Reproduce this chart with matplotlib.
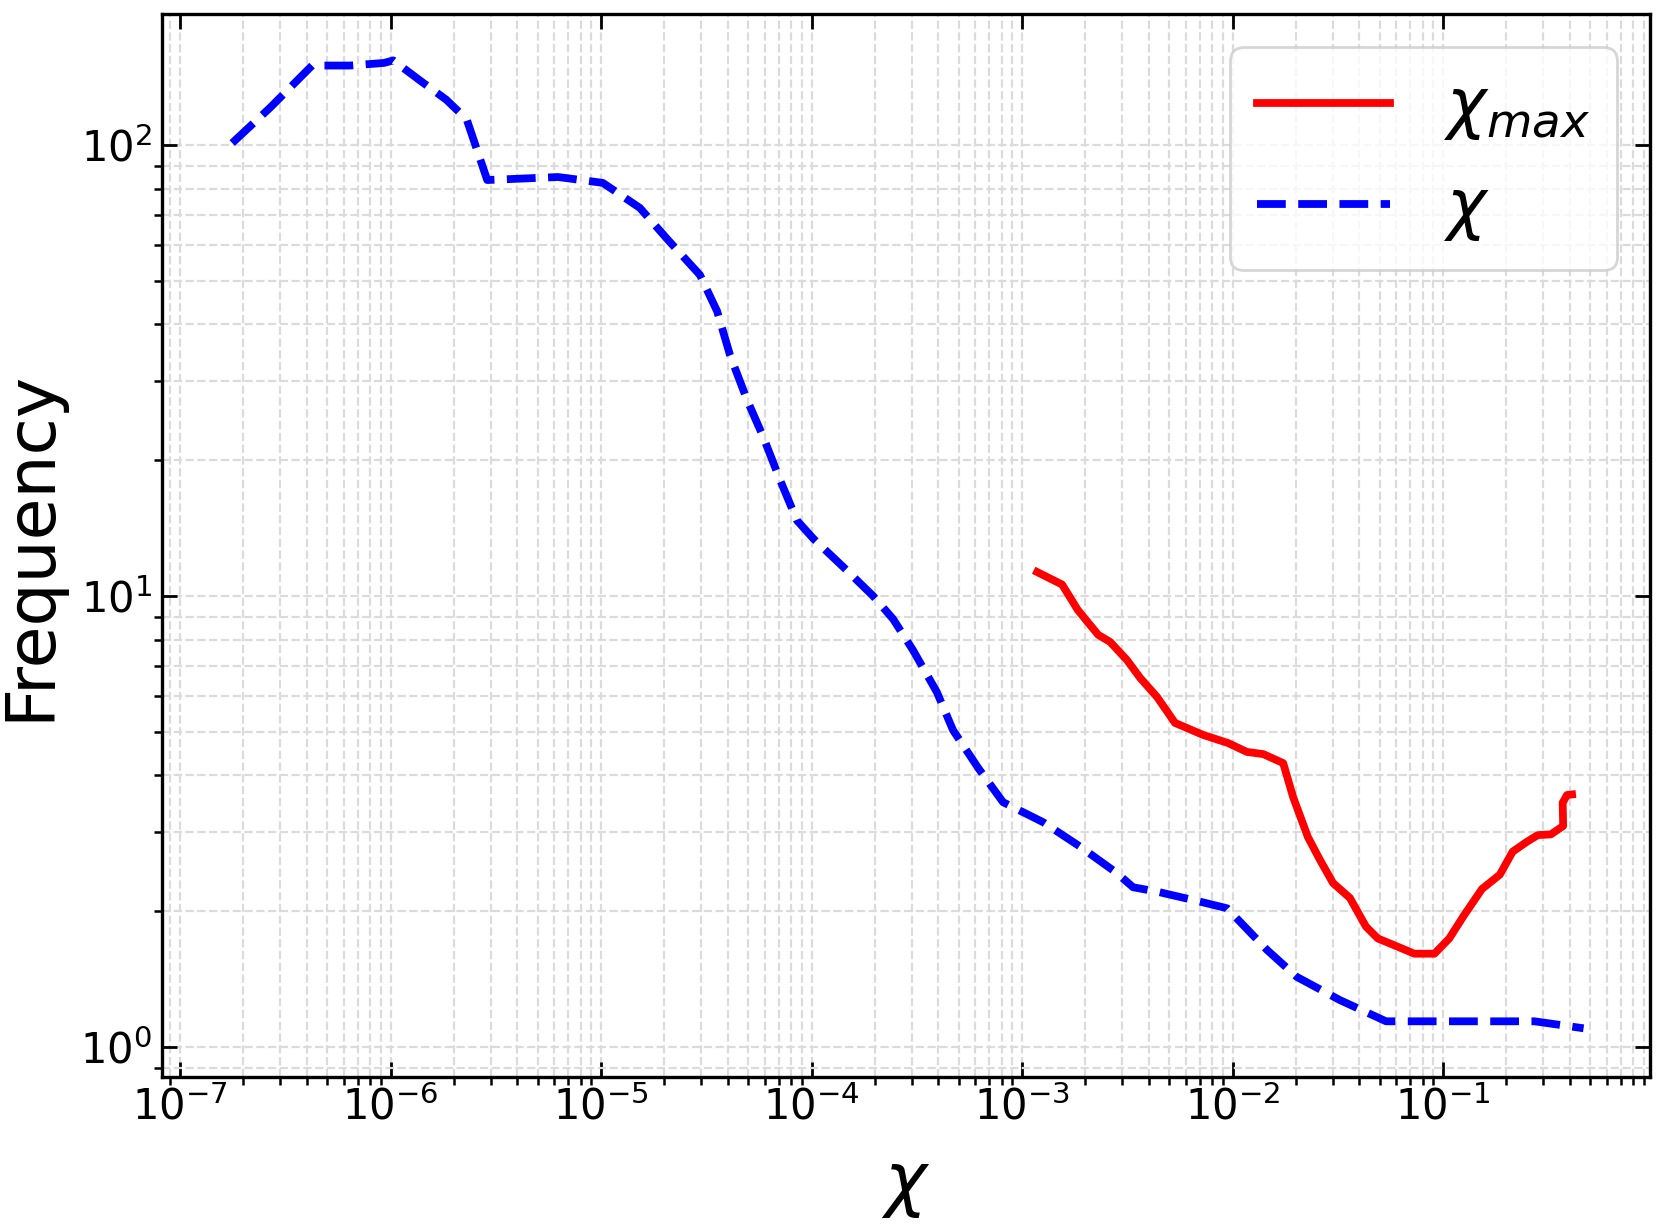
import matplotlib
matplotlib.use("Agg")
import matplotlib.pyplot as plt

# chi distribution (dashed blue)
chi_x = [1.77e-7, 2.68e-7, 4.24e-7, 6.42e-7, 9.31e-7, 1.03e-6, 1.38e-6, 1.84e-6,
         2.30e-6, 2.88e-6, 6.25e-6, 1.02e-5, 1.53e-5, 2.06e-5, 2.95e-5, 3.56e-5,
         4.10e-5, 4.94e-5, 5.88e-5, 7.08e-5, 8.53e-5, 1.02e-4, 1.47e-4, 1.96e-4,
         2.44e-4, 3.03e-4, 3.94e-4, 4.70e-4, 6.18e-4, 8.12e-4, 1.26e-3, 1.89e-3,
         2.82e-3, 3.37e-3, 4.38e-3, 7.01e-3, 9.42e-3, 1.46e-2, 2.02e-2, 3.24e-2,
         5.36e-2, 0.272, 0.465]
chi_y = [101, 121, 150, 150, 152, 154, 139, 126,
         114, 83.6, 84.9, 82.4, 72.5, 61.9, 51.5, 42.8,
         34.2, 27.2, 22.6, 18.1, 14.7, 13.4, 11.4, 10.0,
         8.89, 7.59, 6.12, 5.04, 4.16, 3.49, 3.15, 2.78,
         2.43, 2.26, 2.21, 2.10, 2.03, 1.64, 1.43, 1.27,
         1.14, 1.14, 1.10]

# chi_max distribution (solid red)
chimax_x = [1.18e-3, 1.55e-3, 1.84e-3, 2.30e-3, 2.62e-3, 3.15e-3, 3.64e-3, 4.38e-3,
            5.33e-3, 7.24e-3, 9.52e-3, 1.17e-2, 1.40e-2, 1.74e-2, 1.94e-2, 2.28e-2,
            2.60e-2, 3.00e-2, 3.61e-2, 4.30e-2, 4.90e-2, 5.70e-2, 7.30e-2, 9.10e-2,
            0.107, 0.125, 0.153, 0.186, 0.214, 0.250, 0.282, 0.325,
            0.372, 0.370, 0.388, 0.410]
chimax_y = [11.3, 10.6, 9.31, 8.20, 7.91, 7.21, 6.58, 5.97,
            5.23, 4.92, 4.72, 4.51, 4.46, 4.26, 3.58, 2.92,
            2.60, 2.31, 2.14, 1.85, 1.74, 1.69, 1.61, 1.61,
            1.74, 1.95, 2.24, 2.41, 2.71, 2.85, 2.95, 2.96,
            3.09, 3.48, 3.62, 3.63]

fig = plt.figure(figsize=(8.315, 6.12), dpi=200)
ax = fig.add_axes([0.0974, 0.1205, 0.8948, 0.8681])

ax.plot(chimax_x, chimax_y, color='red', lw=2.8, label=r'$\chi_{max}$', zorder=3)
ax.plot(chi_x, chi_y, color='blue', lw=2.8, ls='--', label=r'$\chi$', zorder=3)

ax.set_xscale('log')
ax.set_yscale('log')
ax.set_xlim(8.21e-8, 0.962)
ax.set_ylim(0.860, 195.2)

ax.grid(which='both', ls='--', color='0.86', lw=0.8, zorder=0)
ax.tick_params(which='major', direction='in', length=5.5, width=1.0,
               top=True, right=True, labelsize=15)
ax.tick_params(which='minor', direction='out', length=3, width=0.9)
for s in ax.spines.values():
    s.set_linewidth(1.2)

ax.set_xlabel(r'$\chi$', fontsize=25.5, labelpad=8)
ax.set_ylabel('Frequency', fontsize=24.5, labelpad=6)

ax.legend(loc='upper right', fontsize=24)

fig.savefig('out.png', dpi=200)
